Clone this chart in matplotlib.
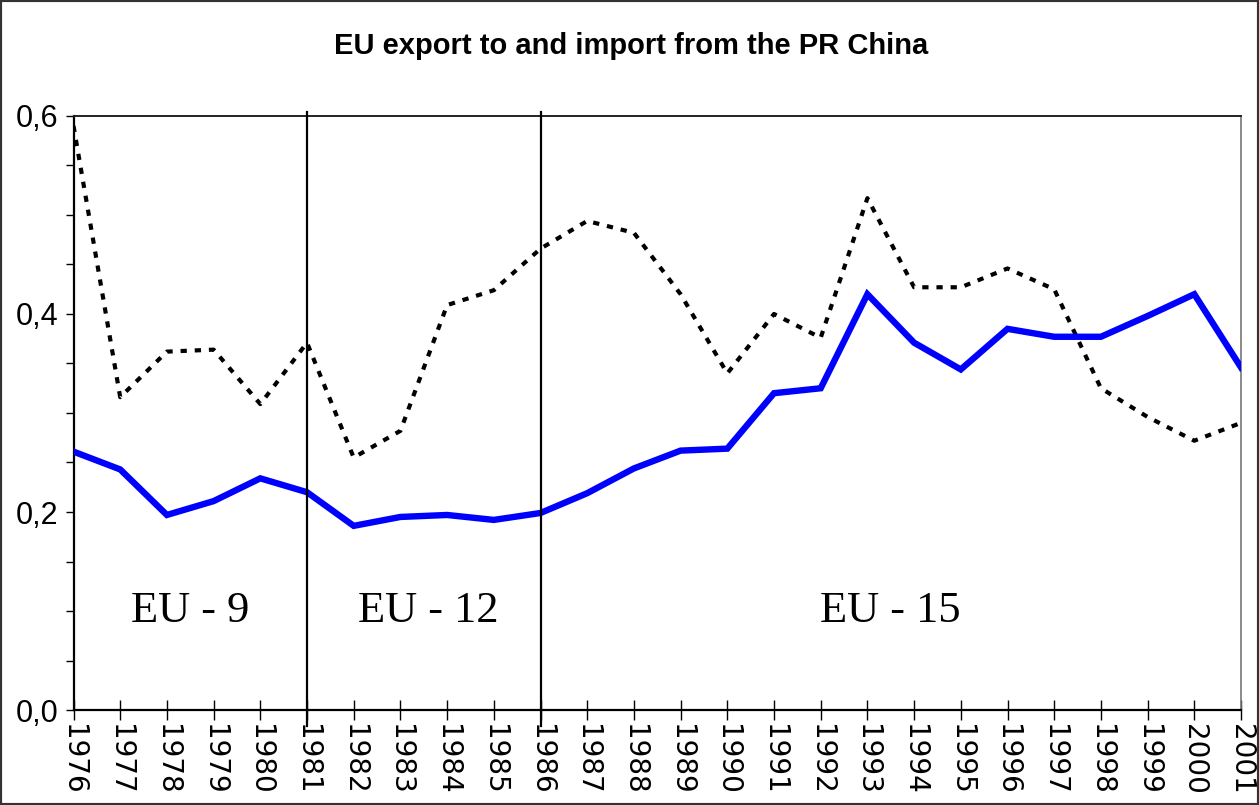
import matplotlib
matplotlib.use("Agg")
import matplotlib.pyplot as plt
from matplotlib.ticker import MultipleLocator, FuncFormatter
from matplotlib.patches import Rectangle
from matplotlib import font_manager

years = list(range(1976, 2002))

solid_values = [0.261, 0.243, 0.197, 0.211, 0.234, 0.220, 0.186, 0.195, 0.197, 0.192,
                0.199, 0.219, 0.244, 0.262, 0.264, 0.320, 0.325, 0.420, 0.371, 0.344,
                0.385, 0.377, 0.377, 0.398, 0.420, 0.346]

dotted_values = [0.590, 0.316, 0.362, 0.364, 0.309, 0.371, 0.255, 0.282, 0.409, 0.424,
                 0.466, 0.494, 0.482, 0.420, 0.340, 0.400, 0.376, 0.517, 0.427, 0.427,
                 0.446, 0.425, 0.325, 0.296, 0.272, 0.290]

period_breaks = [1981, 1986]
period_labels = ["EU - 9", "EU - 12", "EU - 15"]
period_label_x = [1978.5, 1983.6, 1993.5]
period_label_y = 0.10

title = "EU export to and import from the PR China"

installed = {f.name for f in font_manager.fontManager.ttflist}
narrow = "Liberation Sans Narrow" if "Liberation Sans Narrow" in installed else "Liberation Sans"

fig = plt.figure(figsize=(12.59, 8.05), dpi=100)
ax = fig.add_axes([73.5 / 1259, 1 - 710 / 805, (1241 - 73.5) / 1259, (710 - 116) / 805])

ax.plot(years, dotted_values, color="black", lw=3.0, linestyle=(0, (1.5, 1.9)),
        dash_capstyle="butt", zorder=3)
ax.plot(years, solid_values, color="#0000FF", lw=4.6, solid_joinstyle="miter", zorder=4)

for b in period_breaks:
    ax.plot([b, b], [-0.016, 0.604], color="black", lw=1.6, clip_on=False, zorder=5)

for x, lab in zip(period_label_x, period_labels):
    ax.text(x, period_label_y, lab, ha="center", va="center", fontsize=32,
            family="Liberation Serif")

ax.set_xlim(1976, 2001)
ax.set_ylim(0, 0.6)

ax.set_xticks(years)
ax.set_xticklabels([str(y) for y in years], rotation=270, fontsize=20,
                   family="DejaVu Sans", va="top", ha="center")
ax.tick_params(axis="x", direction="inout", length=14, width=1.0, pad=3, color="black")

ax.yaxis.set_major_locator(MultipleLocator(0.2))
ax.yaxis.set_minor_locator(MultipleLocator(0.05))
ax.yaxis.set_major_formatter(FuncFormatter(lambda v, p: f"{v:.1f}".replace(".", ",")))
ax.tick_params(axis="y", which="both", direction="out", length=6, width=1.0, pad=5)
for lab in ax.get_yticklabels():
    lab.set_fontsize(22)
    lab.set_family(narrow)

for side in ("left", "bottom"):
    ax.spines[side].set_color("black")
    ax.spines[side].set_linewidth(1.6)
ax.spines["top"].set_color("#222222")
ax.spines["top"].set_linewidth(1.4)
ax.spines["right"].set_color("#777777")
ax.spines["right"].set_linewidth(1.2)

fig.text(631 / 1259, 1 - 46 / 805, title, ha="center", va="center",
         fontsize=21, fontweight="bold", family=narrow)

fig.patches.append(Rectangle((0, 0), 1, 1, transform=fig.transFigure, fill=False,
                             edgecolor="#333333", lw=3, zorder=10))

fig.savefig("out.png", dpi=100)
